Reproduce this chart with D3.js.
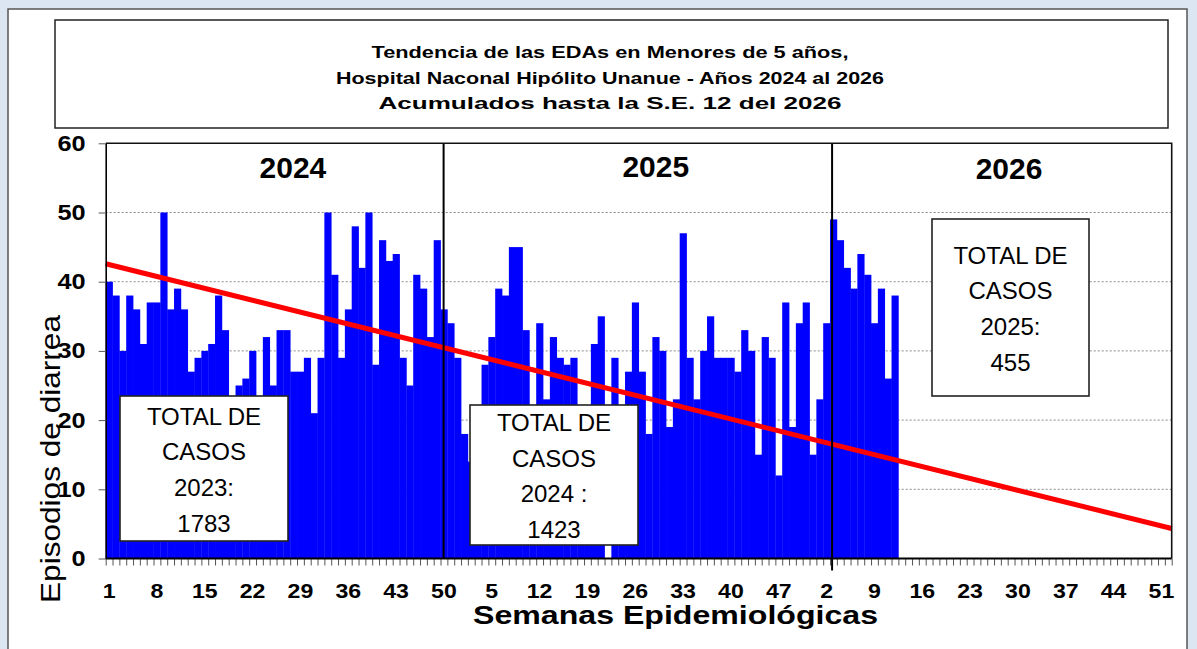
<!DOCTYPE html>
<html>
<head>
<meta charset="utf-8">
<script src="https://cdn.jsdelivr.net/npm/d3@7"></script>
<style>
  html,body{margin:0;padding:0;background:#dce6f2;}
  svg{display:block;}
</style>
</head>
<body>
<svg id="chart" width="1197" height="649"></svg>
<script>
// ---------------- DATA ----------------
const years = ["2024", "2025", "2026"];
const weeksPerYear = 52;
const values2024 = [40,38,30,38,36,31,37,37,50,36,39,36,27,29,30,31,38,33,21,25,26,30,21,32,25,33,33,27,27,29,21,29,50,41,29,36,48,42,50,28,46,43,44,29,25,41,39,32,46,36,34,29];
const values2025 = [18,14,16,28,32,39,38,45,45,33,15,34,23,32,29,28,29,16,15,31,35,0,29,15,27,37,27,18,32,30,19,23,47,29,23,30,35,29,29,29,27,33,30,15,32,29,12,37,19,34,37,15];
const values2026 = [23,34,49,46,42,39,44,41,34,39,26,38];
const xTickLabels = ["1","8","15","22","29","36","43","50","5","12","19","26","33","40","47","2","9","16","23","30","37","44","51"];
const yTicks = [0,10,20,30,40,50,60];
const titleLines = [
  "Tendencia de las EDAs en Menores de 5 años,",
  "Hospital Naconal Hipólito Unanue - Años 2024 al 2026",
  "Acumulados  hasta la S.E.  12 del 2026"
];
const totalYearLabels = ["2023:", "2024 :", "2025:"];
const totalValues = [1783, 1423, 455];
const yTitle = "Episodios de diarrea";
const xTitle = "Semanas Epidemiológicas";

// ---------------- LAYOUT ----------------
const W = 1197, H = 649;
const M = {left: 105.7, right: 1171.7, top: 143.3, bottom: 558.5};
const dividerWeeks = [49.45, 106.3];              // in week units along the axis
const yearLabelPos = [[27.4, 56.6], [80.5, 56.7], [132.2, 56.4]];
const boxes = [
  {x0: 120, y0: 396, x1: 288, y1: 541},
  {x0: 470, y0: 405, x1: 638, y1: 545},
  {x0: 932, y0: 219, x1: 1089, y1: 396}
];

const svg = d3.select("#chart");
const allValues = [...values2024, ...values2025, ...values2026];
const nWeeks = weeksPerYear * years.length;
const cats = d3.range(nWeeks);

const xBand = d3.scaleBand().domain(cats).range([M.left, M.right]).padding(0);
const xLin = d3.scaleLinear().domain([0, nWeeks]).range([M.left, M.right]);
const y = d3.scaleLinear().domain([0, 60]).range([M.bottom, M.top]);

function stretch(sel, f) {
  sel.each(function() {
    const L = this.getComputedTextLength();
    this.setAttribute("textLength", L * f);
    this.setAttribute("lengthAdjust", "spacingAndGlyphs");
  });
}

// background + panel
svg.append("rect").attr("width", W).attr("height", H).attr("fill", "#dce6f2");
svg.append("rect").attr("x", 8).attr("y", 9).attr("width", 1179).attr("height", H + 10)
  .attr("fill", "#fff").attr("stroke", "#555").attr("stroke-width", 1.5);

// title box
svg.append("rect").attr("x", 55).attr("y", 20).attr("width", 1113).attr("height", 108)
  .attr("fill", "#fff").attr("stroke", "#222").attr("stroke-width", 1.5);
const titleWidths = [477, 548, 463];
const titleBase = [58, 84, 109];
titleLines.forEach((t, i) => {
  svg.append("text").attr("x", 610).attr("y", titleBase[i])
    .attr("text-anchor", "middle")
    .attr("font-family", "'Liberation Sans', Arial, sans-serif")
    .attr("font-weight", "bold").attr("font-size", 17)
    .attr("textLength", titleWidths[i]).attr("lengthAdjust", "spacingAndGlyphs")
    .text(t);
});

// gridlines
svg.append("g").selectAll("line").data(yTicks.filter(v => v > 0 && v < 60)).join("line")
  .attr("x1", M.left).attr("x2", M.right)
  .attr("y1", d => y(d)).attr("y2", d => y(d))
  .attr("stroke", "#8a8a8a").attr("stroke-width", 1).attr("stroke-dasharray", "2,2");

// bars
const barData = allValues.map((v, i) => ({i, v})).filter(d => d.v > 0);
svg.append("g").selectAll("rect").data(barData).join("rect")
  .attr("x", d => xBand(d.i))
  .attr("width", xBand.bandwidth() + 0.35)
  .attr("y", d => y(d.v))
  .attr("height", d => y(0) - y(d.v))
  .attr("fill", "#0000ff");

// linear trend (blank weeks counted as zero, as in the source spreadsheet)
const pts = cats.map(i => [i + 1, allValues[i] != null ? allValues[i] : 0]);
const mx = d3.mean(pts, p => p[0]), my = d3.mean(pts, p => p[1]);
const sxy = d3.sum(pts, p => (p[0] - mx) * (p[1] - my));
const sxx = d3.sum(pts, p => (p[0] - mx) * (p[0] - mx));
const slope = sxy / sxx, intercept = my - slope * mx;
const trendPts = [0.5, nWeeks + 0.5].map(k => [xLin(k - 0.5), y(intercept + slope * k)]);
svg.append("path").attr("d", d3.line()(trendPts))
  .attr("stroke", "#ff0000").attr("stroke-width", 5).attr("fill", "none");

// year dividers
svg.append("g").selectAll("line").data(dividerWeeks).join("line")
  .attr("x1", d => xLin(d)).attr("x2", d => xLin(d))
  .attr("y1", M.top).attr("y2", (d, i) => i === 1 ? M.bottom + 12 : M.bottom)
  .attr("stroke", "#000").attr("stroke-width", 2);

// frame top/right
svg.append("path")
  .attr("d", `M${M.left},${M.top}H${M.right}V${M.bottom}`)
  .attr("fill", "none").attr("stroke", "#111").attr("stroke-width", 1.6);

// x minor ticks
const gMinor = svg.append("g").attr("transform", `translate(0,${M.bottom})`)
  .call(d3.axisBottom(xLin).tickValues(d3.range(0, nWeeks + 1)).tickFormat("").tickSize(7).tickSizeOuter(0));
gMinor.select(".domain").remove();
gMinor.selectAll(".tick line").attr("stroke", "#555").attr("stroke-width", 1);

// x labels
const gx = svg.append("g").attr("transform", `translate(0,${M.bottom})`)
  .call(d3.axisBottom(xBand).tickValues(d3.range(0, nWeeks, 7))
    .tickFormat((d, i) => xTickLabels[i]).tickSize(0));
gx.select(".domain").remove();
gx.selectAll("text").attr("y", 598 - M.bottom).attr("dy", 0)
  .attr("font-family", "'Liberation Sans', Arial, sans-serif")
  .attr("font-weight", "bold").attr("font-size", 21).attr("fill", "#000");
stretch(gx.selectAll("text"), 1.1);

// bottom axis line
svg.append("line").attr("x1", M.left).attr("x2", M.right)
  .attr("y1", M.bottom).attr("y2", M.bottom).attr("stroke", "#000").attr("stroke-width", 2);

// y axis
const gy = svg.append("g").attr("transform", `translate(${M.left},0)`)
  .call(d3.axisLeft(y).tickValues(yTicks).tickSize(7).tickSizeOuter(0).tickPadding(13));
gy.select(".domain").attr("stroke", "#000").attr("stroke-width", 1.6);
gy.selectAll(".tick line").attr("stroke", "#555");
gy.selectAll("text")
  .attr("font-family", "'Liberation Sans', Arial, sans-serif")
  .attr("font-weight", "bold").attr("font-size", 22).attr("fill", "#000");
stretch(gy.selectAll("text"), 1.15);

// year labels
svg.append("g").selectAll("text").data(years).join("text")
  .attr("x", (d, i) => xLin(yearLabelPos[i][0]))
  .attr("y", (d, i) => y(yearLabelPos[i][1]))
  .attr("dy", "0.36em")
  .attr("text-anchor", "middle")
  .attr("font-family", "'Liberation Sans', Arial, sans-serif")
  .attr("font-weight", "bold").attr("font-size", 30)
  .text(d => d);

// total boxes
boxes.forEach((b, i) => {
  const g = svg.append("g");
  g.append("rect").attr("x", b.x0).attr("y", b.y0)
    .attr("width", b.x1 - b.x0).attr("height", b.y1 - b.y0)
    .attr("fill", "#fff").attr("stroke", "#222").attr("stroke-width", 1.6);
  const lines = ["TOTAL DE", "CASOS", totalYearLabels[i], String(totalValues[i])];
  const cy = (b.y0 + b.y1) / 2 + 1, step = 35.7;
  lines.forEach((t, j) => {
    g.append("text").attr("x", (b.x0 + b.x1) / 2)
      .attr("y", cy + (j - 1.5) * step).attr("dy", "0.36em")
      .attr("text-anchor", "middle")
      .attr("font-family", "'Liberation Sans', Arial, sans-serif")
      .attr("font-size", 24).attr("fill", "#000")
      .text(t);
  });
});

// axis titles
svg.append("text")
  .attr("transform", "translate(60,459) rotate(-90)")
  .attr("text-anchor", "middle")
  .attr("font-family", "'Liberation Sans', Arial, sans-serif")
  .attr("font-size", 28)
  .attr("textLength", 288).attr("lengthAdjust", "spacingAndGlyphs")
  .text(yTitle);
svg.append("text")
  .attr("x", 675.5).attr("y", 624)
  .attr("text-anchor", "middle")
  .attr("font-family", "'Liberation Sans', Arial, sans-serif")
  .attr("font-weight", "bold").attr("font-size", 25.5)
  .attr("textLength", 405).attr("lengthAdjust", "spacingAndGlyphs")
  .text(xTitle);
</script>
</body>
</html>
